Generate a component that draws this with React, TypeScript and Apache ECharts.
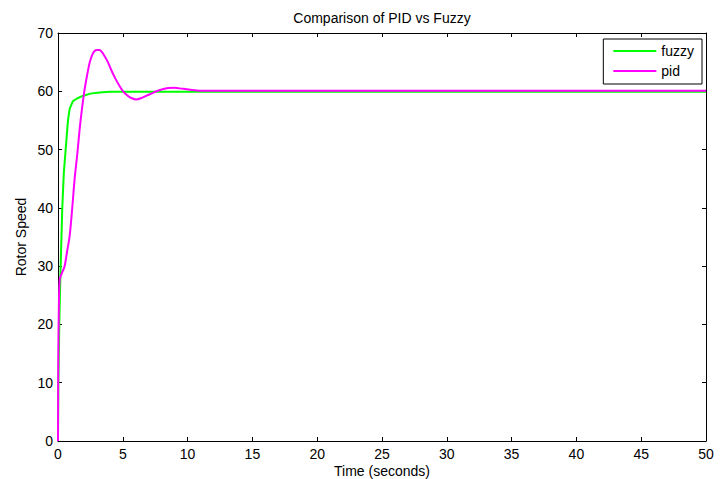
import React, { useEffect, useRef } from "react";
import * as echarts from "echarts";

const fuzzyTime = [0, 0.03, 0.1, 0.18, 0.33, 0.45, 0.59, 0.77, 0.9, 1.15, 1.5, 1.9, 2.5, 3.2, 4, 10, 20, 30, 40, 50];
const fuzzyValue = [0, 10, 20, 28, 40, 46, 50, 55, 57, 58.3, 58.8, 59.2, 59.6, 59.8, 59.9, 59.9, 59.9, 59.9, 59.9, 59.9];

const pidTime = [0, 0.02, 0.06, 0.13, 0.3, 0.51, 0.7, 0.9, 1.1, 1.28, 1.5, 1.67, 1.85, 2.05, 2.25, 2.44, 2.65, 2.82, 3.0, 3.2, 3.4, 3.6, 3.85, 4.1, 4.4, 4.75, 5.05, 5.4, 5.7, 6.03, 6.4, 6.8, 7.2, 7.6, 8.0, 8.5, 9.0, 9.4, 10.1, 11, 20, 30, 40, 50];
const pidValue = [0, 14, 22, 27.7, 28.8, 30, 32.5, 35.2, 40, 44.9, 49.5, 53.5, 57, 60.3, 62.8, 64.9, 66.3, 66.9, 67.1, 67.1, 66.7, 66, 65, 63.7, 62.3, 60.9, 59.9, 59.2, 58.8, 58.6, 58.8, 59.2, 59.6, 60, 60.3, 60.55, 60.6, 60.5, 60.3, 60.1, 60.1, 60.1, 60.1, 60.1];

const xTicks = { min: 0, max: 50, interval: 5 };
const yTicks = { min: 0, max: 70, interval: 10 };

const FONT = "Liberation Sans, Arial, sans-serif";
const FS = 14;

export default function App() {
  const ref = useRef<HTMLDivElement>(null);
  useEffect(() => {
    if (!ref.current) return;
    const chart = echarts.init(ref.current, null, { renderer: "svg" });
    const axisCommon = {
      axisLine: { show: true, onZero: false, lineStyle: { color: "#000", width: 1 } },
      axisTick: { show: true, inside: true, length: 4, lineStyle: { color: "#000" } },
      splitLine: { show: false },
    };
    chart.setOption({
      animation: false,
      backgroundColor: "#fff",
      textStyle: { fontFamily: FONT },
      title: {
        text: "Comparison of PID vs Fuzzy",
        left: 382,
        top: 11,
        textAlign: "center",
        padding: 0,
        textStyle: { fontSize: FS, fontWeight: "normal", color: "#000", fontFamily: FONT },
      },
      grid: { left: 58, right: 21, top: 33, bottom: 38, containLabel: false, outerBoundsMode: "none" },
      legend: {
        right: 25,
        top: 39,
        orient: "vertical",
        itemWidth: 43,
        itemHeight: 2,
        itemGap: 6,
        padding: [5, 8, 6, 9],
        borderColor: "#000",
        borderWidth: 1,
        backgroundColor: "#fff",
        textStyle: { fontSize: FS, color: "#000", fontFamily: FONT },
        data: ["fuzzy", "pid"],
      },
      xAxis: [
        {
          type: "value",
          ...xTicks,
          ...axisCommon,
          axisLabel: { color: "#000", fontSize: FS, lineHeight: 12, margin: 7, fontFamily: FONT },
          name: "Time (seconds)",
          nameLocation: "middle",
          nameGap: 24,
          nameMoveOverlap: false,
          nameTextStyle: { color: "#000", fontSize: FS, lineHeight: 12, fontFamily: FONT },
        },
        {
          type: "value",
          position: "top",
          ...xTicks,
          ...axisCommon,
          axisLabel: { show: false },
        },
      ],
      yAxis: [
        {
          type: "value",
          ...yTicks,
          ...axisCommon,
          axisLabel: { color: "#000", fontSize: FS, margin: 5, fontFamily: FONT },
          name: "Rotor Speed",
          nameLocation: "middle",
          nameGap: 30,
          nameMoveOverlap: false,
          nameTextStyle: { color: "#000", fontSize: FS, fontFamily: FONT },
        },
        {
          type: "value",
          position: "right",
          ...yTicks,
          ...axisCommon,
          axisLabel: { show: false },
        },
      ],
      series: [
        {
          name: "fuzzy",
          type: "line",
          symbol: "none",
          data: fuzzyTime.map((t, i) => [t, fuzzyValue[i]]),
          lineStyle: { color: "#00ff00", width: 2 },
          itemStyle: { color: "#00ff00" },
        },
        {
          name: "pid",
          type: "line",
          symbol: "none",
          smooth: 0.3,
          data: pidTime.map((t, i) => [t, pidValue[i]]),
          lineStyle: { color: "#ff00ff", width: 2 },
          itemStyle: { color: "#ff00ff" },
        },
      ],
    });
    return () => chart.dispose();
  }, []);
  return <div ref={ref} style={{ width: 727, height: 479, position: "absolute", left: 0, top: 0 }} />;
}
